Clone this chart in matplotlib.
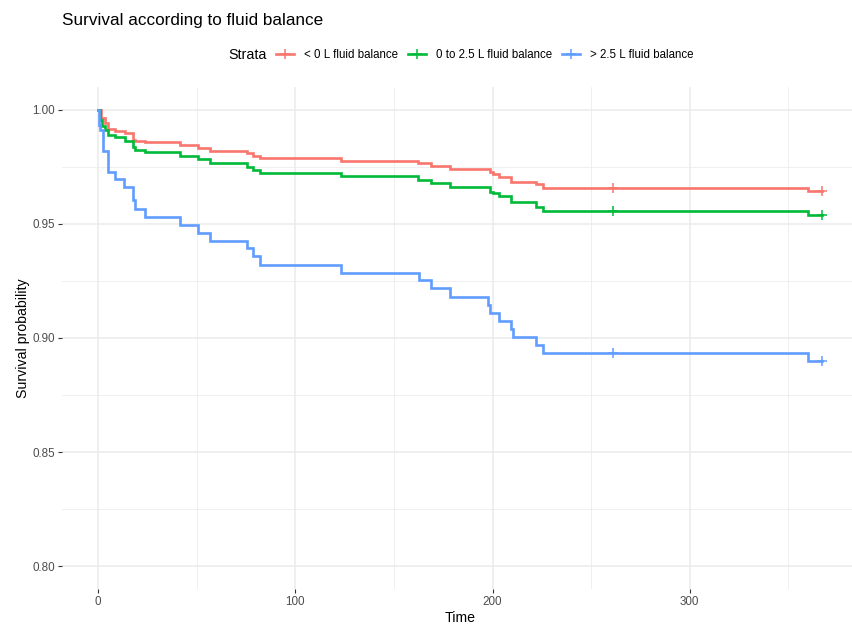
import matplotlib
matplotlib.use("Agg")
import matplotlib.pyplot as plt
from matplotlib.lines import Line2D
from matplotlib.ticker import MultipleLocator

plt.rcParams['font.family'] = ['Liberation Sans', 'DejaVu Sans']

# ---- data ----
strata = ["< 0 L fluid balance", "0 to 2.5 L fluid balance", "> 2.5 L fluid balance"]
colors = ["#F8766D", "#00BA38", "#619CFF"]

red_t = [0, 1.5, 3.5, 5.2, 8.6, 13.7, 17.9, 18.7, 23.8, 41.5, 50.8, 56.7, 75.3, 78.6, 82.0,
         123.4, 162.2, 169.0, 178.2, 198.5, 200.2, 203.5, 209.5, 222.1, 225.5, 360, 367]
red_s = [1.0, 0.9964, 0.9944, 0.9915, 0.9905, 0.9898, 0.9868, 0.9864, 0.9857, 0.9846, 0.9832,
         0.9821, 0.9810, 0.9798, 0.9787, 0.9776, 0.9766, 0.9754, 0.9741, 0.9727, 0.9718, 0.9707,
         0.9684, 0.9675, 0.9659, 0.9645, 0.9645]

green_t = [0, 1.0, 2.0, 3.5, 5.2, 8.6, 13.7, 17.9, 18.7, 23.8, 41.5, 50.8, 56.7, 75.3, 78.6, 82.0,
           123.4, 162.2, 169.0, 178.2, 198.5, 200.2, 203.5, 209.5, 222.1, 225.5, 360, 367]
green_s = [1.0, 0.9956, 0.9930, 0.9912, 0.9890, 0.9879, 0.9864, 0.9838, 0.9825, 0.9813, 0.9797,
           0.9783, 0.9769, 0.9751, 0.9737, 0.9725, 0.9708, 0.9693, 0.9678, 0.9661, 0.9642, 0.9634,
           0.9623, 0.9594, 0.9576, 0.9556, 0.9540, 0.9540]

blue_t = [0, 0.3, 1.0, 2.4, 5.2, 8.6, 13.0, 17.9, 18.7, 23.8, 41.5, 50.8, 56.7, 75.3, 78.6, 82.0,
          123.4, 162.7, 169.0, 178.2, 197.8, 198.8, 203.5, 209.5, 210.3, 222.1, 225.5, 360, 367]
blue_s = [1.0, 0.9934, 0.9912, 0.9820, 0.9729, 0.9695, 0.9662, 0.9605, 0.9566, 0.9529, 0.9496,
          0.9462, 0.9427, 0.9393, 0.9360, 0.9322, 0.9286, 0.9254, 0.9218, 0.9181, 0.9145, 0.9111,
          0.9076, 0.9039, 0.9006, 0.8969, 0.8936, 0.8899, 0.8899]

censor_t = [261.3, 367]
red_cs = [0.9659, 0.9645]
green_cs = [0.9556, 0.9540]
blue_cs = [0.8936, 0.8899]

series_t = [red_t, green_t, blue_t]
series_s = [red_s, green_s, blue_s]
series_cs = [red_cs, green_cs, blue_cs]

x_ticks = [0, 100, 200, 300]
y_ticks = [0.80, 0.85, 0.90, 0.95, 1.00]
y_ticklabels = ["0.80", "0.85", "0.90", "0.95", "1.00"]

# ---- figure ----
W, H = 852, 625
fig = plt.figure(figsize=(W / 100, H / 100), dpi=100)
ax = fig.add_axes([62 / W, (H - 589) / H, (858 - 62) / W, (589 - 87) / H])

for t, s, cs, c in zip(series_t, series_s, series_cs, colors):
    ax.step(t, s, where='post', color=c, lw=1.9, zorder=3, solid_joinstyle='miter')
    ax.plot(censor_t, cs, ls='none', marker='+', color=c, markersize=7.5, mew=1.1, zorder=4)

ax.set_xlim(-18.35, 385.35)
ax.set_ylim(0.79, 1.01)
ax.set_xticks(x_ticks)
ax.set_yticks(y_ticks)
ax.set_yticklabels(y_ticklabels)
ax.xaxis.set_minor_locator(MultipleLocator(50))
ax.yaxis.set_minor_locator(MultipleLocator(0.025))
ax.grid(which='major', color='#EBEBEB', lw=1.1, zorder=0)
ax.grid(which='minor', color='#EBEBEB', lw=0.55, zorder=0)
ax.set_axisbelow(True)
for sp in ax.spines.values():
    sp.set_visible(False)
ax.tick_params(which='major', length=3, width=0.8, color='#333333', labelcolor='#4D4D4D',
               labelsize=8.4, pad=2)
ax.tick_params(which='minor', length=0)

ax.set_xlabel("Time", fontsize=10.2, labelpad=2)
ax.set_ylabel("Survival probability", fontsize=10.2, labelpad=1.5)

fig.text(62 / W, 1 - 20 / H, "Survival according to fluid balance", fontsize=12.3,
         ha='left', va='center', color='black')

# legend
fig.text(228 / W, 1 - 55 / H, "Strata", fontsize=10.3, ha='left', va='center')
handles = [Line2D([0], [0], color=c, lw=1.9, marker='+', markersize=7.5, mew=1.1) for c in colors]
fig.legend(handles, strata, ncol=3, loc='center left', bbox_to_anchor=(276 / W, 1 - 55 / H),
           frameon=False, fontsize=8.3, handlelength=1.56, handletextpad=0.87,
           columnspacing=0.87, borderaxespad=0, borderpad=0)

fig.savefig("out.png", dpi=100)
